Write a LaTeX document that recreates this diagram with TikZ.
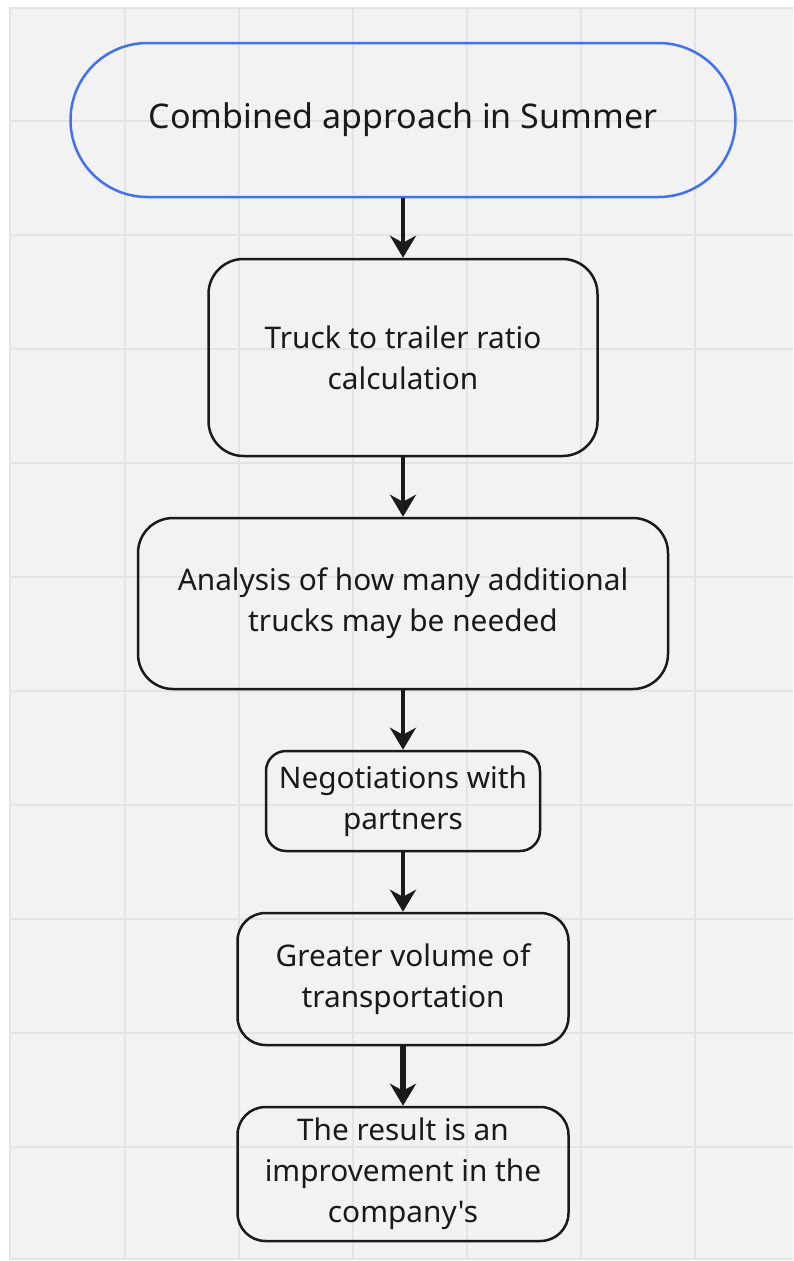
\documentclass[tikz,border=0pt]{standalone}
\usepackage{fontspec}
\setmainfont{Noto Sans}[Ligatures=TeXOff]
\usepackage{xcolor}
\usetikzlibrary{arrows.meta, positioning}

\definecolor{boardgray}{RGB}{242,242,242}
\definecolor{gridgray}{RGB}{228,228,228}
\definecolor{startblue}{RGB}{64,112,245}
\definecolor{inkblack}{RGB}{26,26,26}

\tikzset{
  stepbox/.style={draw=inkblack, line width=2.5pt, rounded corners=35pt,
    align=center, text=inkblack, font=\fontsize{29.8}{41}\selectfont},
  flow/.style={draw=inkblack, line width=4pt,
    -{Stealth[length=22pt, width=26pt, inset=7pt]}},
}

\begin{document}
\begin{tikzpicture}[x=1pt, y=-1pt, node distance=59.5pt]
  \useasboundingbox (0,0) rectangle (793,1261);
  \fill[boardgray] (9,7) rectangle (793,1259);
  \foreach \x in {10,125,239,353,467,581,695} {
    \draw[gridgray, line width=2pt] (\x,7) -- (\x,1259);
  }
  \foreach \y in {8,121,235,349,463,577,691,805,919,1033,1147,1259} {
    \draw[gridgray, line width=2pt] (9,\y) -- (793,\y);
  }
  \node[draw=startblue, line width=2.5pt, rounded corners=77pt,
        minimum width=665pt, minimum height=154pt, text=inkblack,
        font=\fontsize{34}{42}\selectfont] (start) at (403,120)
      {Combined approach in Summer};
  \node[stepbox, minimum width=389pt, minimum height=197pt, below=of start] (ratio)
      {Truck to trailer ratio\\calculation};
  \node[stepbox, minimum width=530pt, minimum height=171pt, below=of ratio] (analysis)
      {Analysis of how many additional\\trucks may be needed};
  \node[stepbox, rounded corners=20pt, minimum width=274pt, minimum height=100pt,
        below=of analysis] (partners)
      {Negotiations with\\partners};
  \node[stepbox, rounded corners=28pt, minimum width=331pt, minimum height=132pt,
        below=of partners] (volume)
      {Greater volume of\\transportation};
  \node[stepbox, rounded corners=28pt, minimum width=331pt, minimum height=134pt,
        below=of volume] (result)
      {The result is an\\improvement in the\\company's};
  \draw[flow] (start) -- (ratio);
  \draw[flow] (ratio) -- (analysis);
  \draw[flow] (analysis) -- (partners);
  \draw[flow] (partners) -- (volume);
  \draw[flow, line width=5.5pt] (volume) -- (result);
\end{tikzpicture}
\end{document}
